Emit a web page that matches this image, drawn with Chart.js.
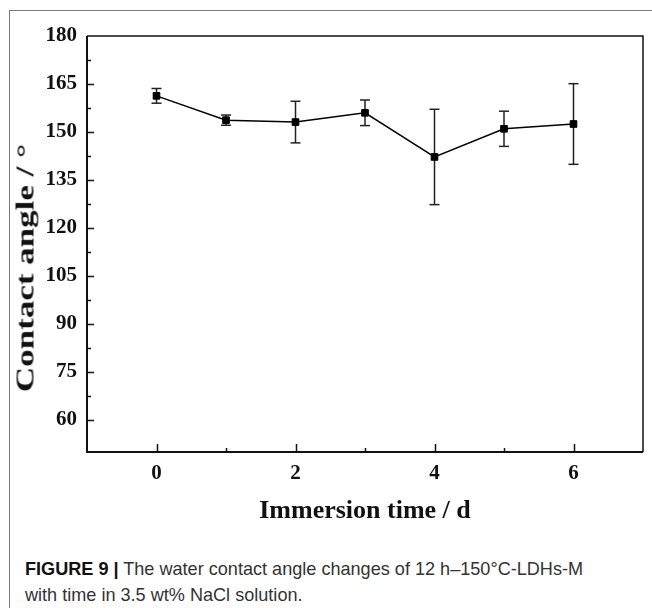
<!DOCTYPE html>
<html>
<head>
<meta charset="utf-8">
<script src="https://cdn.jsdelivr.net/npm/chart.js@4.4.1/dist/chart.umd.min.js"></script>
<style>
  html, body { margin: 0; padding: 0; background: #fff; }
  body { width: 652px; height: 608px; position: relative; overflow: hidden; }
  #frame { position: absolute; left: 9px; top: 10px; width: 800px; height: 800px;
           border-left: 1px solid #7a7a7a; border-top: 1px solid #7a7a7a; }
  #wrap { position: absolute; left: 0; top: 0; width: 652px; height: 540px; }
  #ytitle { position: absolute; left: 24.6px; top: 268px; height: 25px; white-space: nowrap;
            font: bold 25px/25px 'Liberation Serif', 'Times New Roman', serif; color: #111;
            transform: translate(-50%, -50%) rotate(-90deg) scaleX(1.4); }
  #caption { position: absolute; left: 25px; top: 556px; width: 625px;
             font: 18.1px/26px 'Liberation Sans', Arial, sans-serif; color: #333; }
  #caption b { color: #111; }
</style>
</head>
<body>
<div id="frame"></div>
<div id="wrap"><canvas id="chart" width="652" height="540"></canvas></div>
<div id="ytitle">Contact angle / °</div>
<div id="caption"><b>FIGURE 9 |</b> The water contact angle changes of 12 h–150°C-LDHs-M<br>with time in 3.5 wt% NaCl solution.</div>
<script>
// immersion days, mean contact angle and error
const days  = [0, 1, 2, 3, 4, 5, 6];
const angle = [161.3, 153.7, 153.1, 156.0, 142.2, 151.0, 152.5];
const err   = [2.3, 1.6, 6.5, 4.0, 14.9, 5.5, 12.6];

const xLabels = [0, 2, 4, 6];
const yLabels = [60, 75, 90, 105, 120, 135, 150, 165, 180];

const pts = days.map((d, i) => ({ x: d, y: angle[i] }));
// vertical error segments, broken by null points
const bars = days.flatMap((d, i) => [
  { x: d, y: angle[i] - err[i] },
  { x: d, y: angle[i] + err[i] },
  { x: d, y: null },
]);

const tickFont = { family: "'Liberation Serif', 'Times New Roman', serif", size: 21, weight: 'bold' };
const ink = '#111';

// frame + inward ticks (major/minor)
const frameTicks = {
  id: 'frameTicks',
  afterDraw(chart) {
    const { ctx, chartArea: a, scales: { x, y } } = chart;
    ctx.save();
    ctx.strokeStyle = ink;
    ctx.lineWidth = 1.5;
    ctx.beginPath();
    ctx.moveTo(a.left, a.top); ctx.lineTo(a.right, a.top); ctx.lineTo(a.right, a.bottom);
    ctx.stroke();
    ctx.lineWidth = 2;
    ctx.beginPath();
    ctx.moveTo(a.left, a.top); ctx.lineTo(a.left, a.bottom); ctx.lineTo(a.right, a.bottom);
    ctx.stroke();
    ctx.lineWidth = 1.5;
    ctx.beginPath();
    x.ticks.forEach(t => {
      if (t.value <= x.min || t.value >= x.max) return;
      const px = Math.round(x.getPixelForValue(t.value)) + 0.5;
      const len = xLabels.includes(t.value) ? 8 : 4;
      ctx.moveTo(px, a.bottom); ctx.lineTo(px, a.bottom - len);
    });
    y.ticks.forEach(t => {
      if (t.value <= y.min || t.value >= y.max) return;
      const py = Math.round(y.getPixelForValue(t.value)) + 0.5;
      const len = yLabels.includes(t.value) ? 7 : 4;
      ctx.moveTo(a.left, py); ctx.lineTo(a.left + len, py);
    });
    ctx.stroke();
    ctx.restore();
  }
};

new Chart(document.getElementById('chart'), {
  type: 'scatter',
  data: {
    datasets: [
      {
        data: pts, showLine: true, order: 0,
        borderColor: '#000', borderWidth: 1.5,
        pointStyle: 'rect', pointRadius: 4.7, pointBorderWidth: 1,
        pointBackgroundColor: '#000', pointBorderColor: '#000',
      },
      {
        data: bars, showLine: true, spanGaps: false, order: 1,
        borderColor: '#222', borderWidth: 1.5,
        pointStyle: 'line', pointRadius: 5, pointBorderWidth: 1.5, pointBorderColor: '#222',
      },
    ],
  },
  options: {
    responsive: false, animation: false, events: [],
    devicePixelRatio: 1,
    layout: { padding: { top: 36, right: 2, left: 0, bottom: 0 } },
    plugins: { legend: { display: false }, tooltip: { enabled: false } },
    scales: {
      x: {
        type: 'linear', min: -1, max: 7,
        grid: { display: false, drawTicks: false }, border: { display: false },
        afterFit: s => { s.height = 88; },
        ticks: {
          stepSize: 1, autoSkip: false, padding: 9, color: ink, font: tickFont, maxRotation: 0,
          callback: v => xLabels.includes(v) ? String(v) : '',
        },
        title: {
          display: true, text: 'Immersion time / d', color: ink,
          font: { family: tickFont.family, size: 26, weight: 'bold' },
          padding: { top: 0, bottom: 13 },
        },
      },
      y: {
        type: 'linear', min: 50, max: 180,
        grid: { display: false, drawTicks: false }, border: { display: false },
        afterFit: s => { s.width = 87; },
        ticks: {
          stepSize: 7.5, autoSkip: false, padding: 10, color: ink, font: tickFont,
          callback: v => yLabels.includes(v) ? String(v) : '',
        },
      },
    },
  },
  plugins: [frameTicks],
});
</script>
</body>
</html>
